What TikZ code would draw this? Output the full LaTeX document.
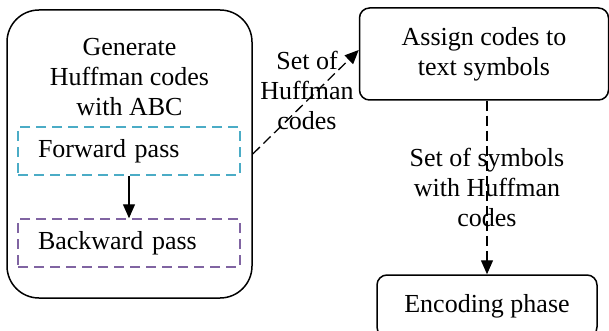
\documentclass[tikz,border=0pt]{standalone}
\usepackage{fontspec}
\setmainfont{Liberation Serif}
\usetikzlibrary{arrows.meta}
\definecolor{passcyan}{HTML}{4BACC6}
\definecolor{passpurple}{HTML}{8064A2}
\tikzset{stagebox/.style={draw, line width=1.5pt, align=center},
         passbox/.style={draw, line width=1.5pt, dash pattern=on 10pt off 6pt, text width=182pt, align=left, inner xsep=20pt, minimum height=48pt},
         flow/.style={line width=1.3pt, dash pattern=on 10pt off 5pt, -{Triangle[length=14pt,width=12pt]}}}

\begin{document}
\begin{tikzpicture}[x=1pt,y=-1pt,font=\fontsize{26}{30}\selectfont]
\useasboundingbox (0,0) rectangle (609,331);

\node[stagebox, rounded corners=32pt, minimum width=245pt, minimum height=288pt] (abc) at (129.5,154) {};
\node[align=center] (title) at (129.5,77) {Generate\\Huffman codes\\with ABC};
\node[passbox, draw=passcyan] (fwd) at (129,151) {Forward pass};
\node[passbox, draw=passpurple] (bwd) at (129,243) {Backward pass};
\draw[line width=1.3pt, -{Triangle[length=14pt,width=12pt]}] (fwd.south) -- (bwd.north);

\node[stagebox, rounded corners=10pt, minimum width=249pt, minimum height=92pt] (assign) at (484,54) {Assign codes to\\text symbols};
\node[stagebox, rounded corners=10pt, minimum width=220pt, minimum height=62pt] (encode) at (487,306) {Encoding phase};

% connectors
\draw[flow] (abc.east) -- ([yshift=4pt]assign.west);
\node[align=center] (setcodes) at (307,90) {Set of\\Huffman\\codes};
\draw[flow] (encode.north |- assign.south) -- (encode.north)
  node[midway, align=center] (setsym) {Set of symbols\\with Huffman\\codes};

\end{tikzpicture}
\end{document}
